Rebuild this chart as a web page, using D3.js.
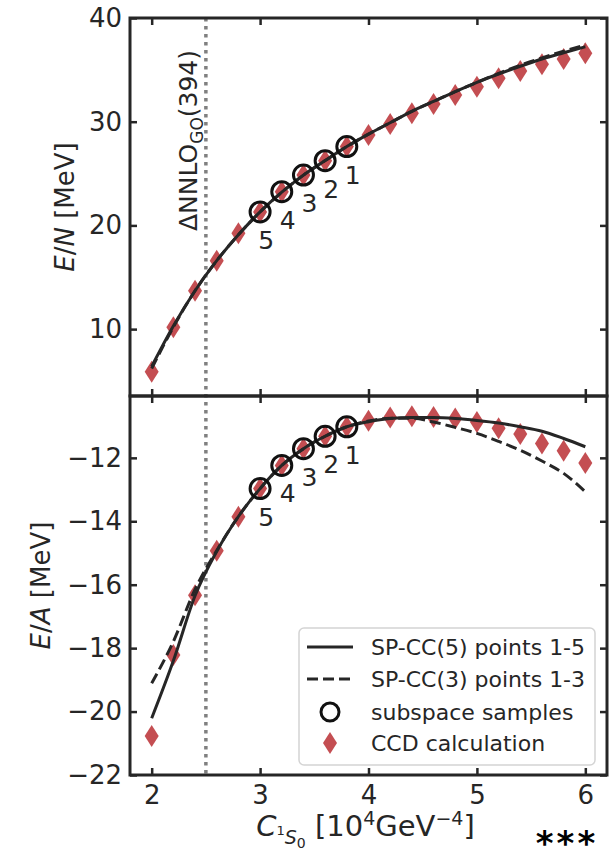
<!DOCTYPE html>
<html>
<head>
<meta charset="utf-8">
<script src="https://cdn.jsdelivr.net/npm/d3@7"></script>
<style>
  body { margin: 0; background: #fff; }
  svg { display: block; font-family: "DejaVu Sans", sans-serif; }
</style>
</head>
<body>
<div id="chart"></div>
<script>
// C_1S0 grid of the CCD calculations and SP-CC curves
const cGrid = [2.0, 2.2, 2.4, 2.6, 2.8, 3.0, 3.2, 3.4, 3.6, 3.8, 4.0,
               4.2, 4.4, 4.6, 4.8, 5.0, 5.2, 5.4, 5.6, 5.8, 6.0]

// top panel: E/N of neutron matter
const ccdEN = [5.9, 10.17, 13.7, 16.6, 19.25, 21.3, 23.25, 24.86, 26.24, 27.6, 28.72,
               29.78, 30.81, 31.71, 32.57, 33.38, 34.19, 34.89, 35.54, 36.05, 36.6]
const spcc5EN = [6.4, 10.3, 13.7, 16.6, 19.1, 21.3, 23.2, 24.85, 26.25, 27.6, 28.8,
                 29.9, 31.0, 31.95, 32.9, 33.8, 34.6, 35.35, 36.05, 36.65, 37.23]
const spcc3EN = [6.2, 10.2, 13.7, 16.6, 19.1, 21.3, 23.2, 24.85, 26.25, 27.6, 28.8,
                 29.9, 31.0, 31.95, 32.9, 33.8, 34.65, 35.45, 36.15, 36.8, 37.4]

// bottom panel: E/A of symmetric nuclear matter
const ccdEA = [-20.77, -18.22, -16.33, -14.93, -13.86, -12.97, -12.24, -11.71, -11.32, -11.02, -10.83,
               -10.73, -10.69, -10.71, -10.76, -10.87, -11.07, -11.25, -11.55, -11.78, -12.16]
const spcc5EA = [-20.21, -18.4, -16.35, -14.95, -13.85, -12.97, -12.24, -11.71, -11.32, -11.02, -10.86,
                 -10.76, -10.73, -10.73, -10.76, -10.82, -10.9, -11.02, -11.16, -11.39, -11.65]
const spcc3EA = [-19.11, -17.79, -16.15, -14.92, -13.85, -12.97, -12.24, -11.71, -11.32, -11.02, -10.84,
                 -10.75, -10.75, -10.87, -11.04, -11.23, -11.48, -11.76, -12.1, -12.49, -13.07]

// subspace samples (training points)
const sampleC = [3.8, 3.6, 3.4, 3.2, 3.0]
const sampleEN = [27.6, 26.24, 24.86, 23.25, 21.3]
const sampleEA = [-11.02, -11.32, -11.71, -12.24, -12.97]
const sampleLabels = ['1', '2', '3', '4', '5']

const xTicks = [2, 3, 4, 5, 6]
const yTicksEN = [10, 20, 30, 40]
const yTicksEA = [-22, -20, -18, -16, -14, -12]
const refC = 2.5   // ΔNNLO_GO(394)

const legendLabels = ['SP-CC(5) points 1-5', 'SP-CC(3) points 1-3', 'subspace samples', 'CCD calculation']

const W = 615, H = 852
const LEFT = 130, RIGHT = 607, TOP = 18, MID = 396, BOTTOM = 775
const INK = '#262626'
const RED = '#c44e52'

const svg = d3.select('#chart').append('svg')
    .attr('width', W)
    .attr('height', H)

svg.append('rect').attr('width', W).attr('height', H).attr('fill', '#fff')

const x = d3.scaleLinear().domain([1.8, 6.2]).range([LEFT, RIGHT])
const yTop = d3.scaleLinear().domain([3.55, 40]).range([MID, TOP])
const yBot = d3.scaleLinear().domain([-22, -10.05]).range([BOTTOM, MID])

const diamond = 'M0,-11L7,0L0,11L-7,0Z'

function drawPanel(y, y0, y1, yTicks, ccd, spcc5, spcc3, samples, showX) {
    const g = svg.append('g')

    // CCD diamonds
    g.selectAll('.ccd')
        .data(cGrid.map((c, i) => [c, ccd[i]]))
        .enter()
        .append('path')
        .attr('d', diamond)
        .attr('transform', d => `translate(${x(d[0])},${y(d[1])})`)
        .attr('fill', RED)

    const line = d3.line()
        .x(d => x(d[0]))
        .y(d => y(d[1]))
        .curve(d3.curveMonotoneX)

    g.append('path')
        .attr('d', line(cGrid.map((c, i) => [c, spcc3[i]])))
        .attr('fill', 'none')
        .attr('stroke', INK)
        .attr('stroke-width', 3)
        .attr('stroke-dasharray', '11,5')

    g.append('path')
        .attr('d', line(cGrid.map((c, i) => [c, spcc5[i]])))
        .attr('fill', 'none')
        .attr('stroke', INK)
        .attr('stroke-width', 3)

    // samples with their numbers
    const pts = sampleC.map((c, i) => [c, samples[i], sampleLabels[i]])
    g.selectAll('.sample')
        .data(pts)
        .enter()
        .append('circle')
        .attr('cx', d => x(d[0]))
        .attr('cy', d => y(d[1]))
        .attr('r', 10)
        .attr('fill', 'none')
        .attr('stroke', '#111')
        .attr('stroke-width', 3)

    g.selectAll('.num')
        .data(pts)
        .enter()
        .append('text')
        .attr('x', d => x(d[0]) + 6)
        .attr('y', d => y(d[1]) + 37)
        .attr('text-anchor', 'middle')
        .attr('font-size', 25)
        .attr('fill', INK)
        .text(d => d[2])

    // axes, ticks inward on all four sides
    const axes = [
        [d3.axisBottom(x).tickValues(xTicks), `translate(0,${y0})`, showX],
        [d3.axisTop(x).tickValues(xTicks), `translate(0,${y1})`, false],
        [d3.axisLeft(y).tickValues(yTicks), `translate(${LEFT},0)`, true],
        [d3.axisRight(y).tickValues(yTicks), `translate(${RIGHT},0)`, false]
    ]
    axes.forEach(([axis, tr, labels], i) => {
        axis.tickSize(-7).tickPadding(i < 2 ? 11 : 8)
        axis.tickFormat(labels ? d3.format('d') : '')
        const a = svg.append('g').attr('transform', tr).call(axis)
        a.select('.domain').remove()
        a.selectAll('line').attr('stroke', INK).attr('stroke-width', 2.5)
        a.selectAll('text')
            .attr('font-size', 26)
            .attr('font-family', 'DejaVu Sans')
            .attr('fill', INK)
    })

    svg.append('rect')
        .attr('x', LEFT).attr('y', y1)
        .attr('width', RIGHT - LEFT).attr('height', y0 - y1)
        .attr('fill', 'none')
        .attr('stroke', INK)
        .attr('stroke-width', 3)
}

// dotted reference line behind everything
svg.append('line')
    .attr('x1', x(refC)).attr('x2', x(refC))
    .attr('y1', TOP).attr('y2', BOTTOM)
    .attr('stroke', '#808080')
    .attr('stroke-width', 3.5)
    .attr('stroke-dasharray', '3.5,4.5')

drawPanel(yTop, MID, TOP, yTicksEN, ccdEN, spcc5EN, spcc3EN, sampleEN, false)
drawPanel(yBot, BOTTOM, MID, yTicksEA, ccdEA, spcc5EA, spcc3EA, sampleEA, true)

// reference interaction label
const ref = svg.append('text')
    .attr('transform', `translate(${x(refC) - 9},231) rotate(-90)`)
    .attr('font-size', 25)
    .attr('fill', INK)
ref.append('tspan').text('ΔNNLO')
ref.append('tspan').attr('font-size', 17).attr('dy', 6).text('GO')
ref.append('tspan').attr('dy', -6).text('(394)')

// y labels
function yLabel(cx, cy, letter) {
    const t = svg.append('text')
        .attr('transform', `translate(${cx},${cy}) rotate(-90)`)
        .attr('text-anchor', 'middle')
        .attr('font-size', 26)
        .attr('fill', INK)
    t.append('tspan').attr('font-style', 'italic').text('E')
    t.append('tspan').text('/')
    t.append('tspan').attr('font-style', 'italic').text(letter)
    t.append('tspan').text(' [MeV]')
}
yLabel(74, (TOP + MID) / 2, 'N')
yLabel(50, (MID + BOTTOM) / 2, 'A')

// x label
const xl = svg.append('text')
    .attr('x', (LEFT + RIGHT) / 2 - 3)
    .attr('y', 836)
    .attr('text-anchor', 'middle')
    .attr('font-size', 29)
    .attr('fill', INK)
xl.append('tspan').attr('font-style', 'italic').text('C')
xl.append('tspan').attr('font-size', 13).attr('dy', -1).text('1')
xl.append('tspan').attr('font-size', 19).attr('font-style', 'italic').attr('dy', 9).text('S')
xl.append('tspan').attr('font-size', 14).attr('dy', 4).text('0')
xl.append('tspan').attr('dy', -12).text(' [10')
xl.append('tspan').attr('font-size', 19).attr('dy', -11).text('4')
xl.append('tspan').attr('dy', 11).text('GeV')
xl.append('tspan').attr('font-size', 19).attr('dy', -11).text('−4')
xl.append('tspan').attr('dy', 11).text(']')

// legend
const lg = svg.append('g')
lg.append('rect')
    .attr('x', 299).attr('y', 628)
    .attr('width', 296).attr('height', 137)
    .attr('rx', 5)
    .attr('fill', '#fff').attr('fill-opacity', 0.85)
    .attr('stroke', '#d4d4d4').attr('stroke-width', 1.5)

const rowY = [647, 679, 712, 743]
legendLabels.forEach((label, i) => {
    const yy = rowY[i]
    if (i < 2) {
        lg.append('line')
            .attr('x1', 307).attr('x2', 353)
            .attr('y1', yy).attr('y2', yy)
            .attr('stroke', INK).attr('stroke-width', 3)
            .attr('stroke-dasharray', i === 1 ? '11,5' : null)
    } else if (i === 2) {
        lg.append('circle')
            .attr('cx', 330).attr('cy', yy).attr('r', 9)
            .attr('fill', 'none').attr('stroke', '#111').attr('stroke-width', 3)
    } else {
        lg.append('path')
            .attr('d', diamond)
            .attr('transform', `translate(330,${yy})`)
            .attr('fill', RED)
    }
    lg.append('text')
        .attr('x', 371).attr('y', yy + 8)
        .attr('font-size', 22)
        .attr('fill', INK)
        .text(label)
})

svg.append('text')
    .attr('x', 567).attr('y', 855)
    .attr('text-anchor', 'middle')
    .attr('font-size', 34)
    .attr('font-weight', 'bold')
    .attr('letter-spacing', 3)
    .attr('fill', '#000')
    .text('***')
</script>
</body>
</html>
